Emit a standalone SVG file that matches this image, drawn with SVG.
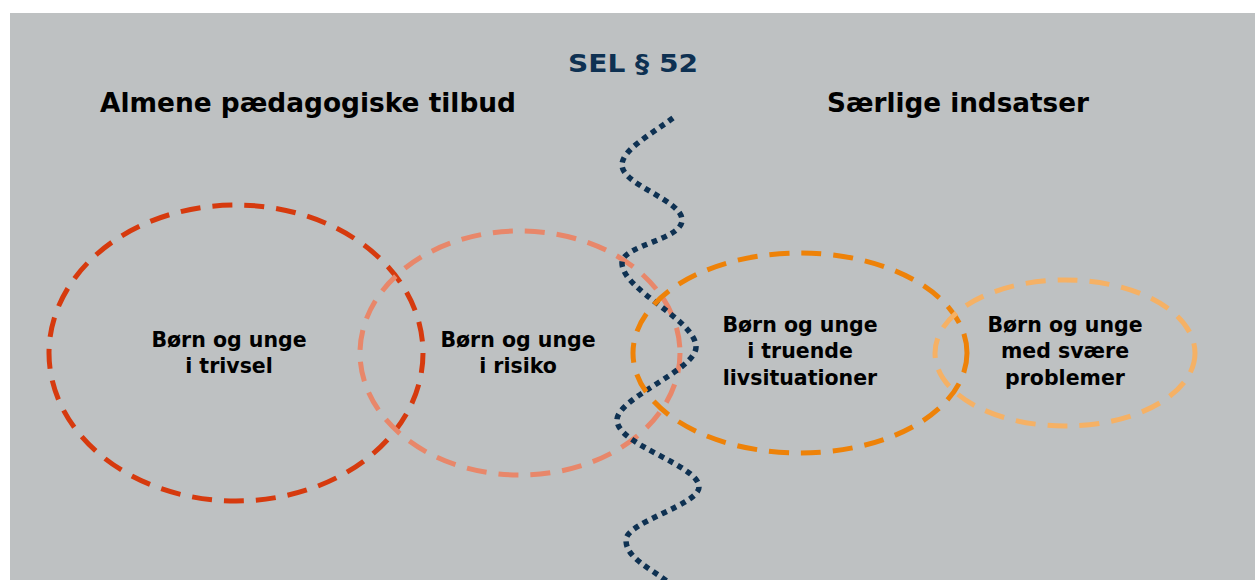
<svg xmlns="http://www.w3.org/2000/svg" width="1255" height="580" viewBox="0 0 1255 580">
  <style>
    .ring { fill: none; stroke-width: 5; stroke-dasharray: 20 12; }
    .lbl { font-family: "DejaVu Sans", Verdana, sans-serif; font-weight: bold; font-size: 20.5px; fill: #000; text-anchor: middle; }
    .head { font-family: "DejaVu Sans", Verdana, sans-serif; font-weight: bold; font-size: 26px; fill: #000; text-anchor: middle; }
  </style>
  <rect x="0" y="0" width="1255" height="580" fill="#ffffff"/>
  <rect x="10" y="13" width="1245" height="567" fill="#BEC1C2"/>

  <g id="titles">
    <text x="633" y="72" class="head" style="fill:#0E3152;font-size:25px" textLength="130" lengthAdjust="spacingAndGlyphs">SEL § 52</text>
    <text x="308" y="112" class="head" textLength="416" lengthAdjust="spacingAndGlyphs">Almene pædagogiske tilbud</text>
    <text x="958" y="112" class="head" textLength="262" lengthAdjust="spacingAndGlyphs">Særlige indsatser</text>
  </g>

  <g id="node-trivsel">
    <ellipse cx="236" cy="353" rx="187" ry="148" class="ring" stroke="#D63A0E"/>
    <text class="lbl" x="229" y="347">Børn og unge</text>
    <text class="lbl" x="229" y="373">i trivsel</text>
  </g>
  <g id="node-risiko">
    <ellipse cx="520" cy="353" rx="160" ry="122" class="ring" stroke="#E8876A"/>
    <text class="lbl" x="518" y="347">Børn og unge</text>
    <text class="lbl" x="518" y="373">i risiko</text>
  </g>

  <g id="connectors">
    <path d="M 673 118 C 650 135 622 150 622 165 C 622 185 682 200 682 220 C 682 240 622 245 622 263 C 622 290 696 320 696 347 C 696 370 617 398 617 420 C 617 445 699 465 699 487 C 699 505 626 522 626 540 C 626 558 650 568 668 582" fill="none" stroke="#0E3152" stroke-width="5.5" stroke-dasharray="5.5 5"/>
  </g>

  <g id="node-truende">
    <ellipse cx="800" cy="353" rx="167" ry="100" class="ring" stroke="#EE8208"/>
    <text class="lbl" x="800" y="332">Børn og unge</text>
    <text class="lbl" x="800" y="358">i truende</text>
    <text class="lbl" x="800" y="385">livsituationer</text>
  </g>
  <g id="node-problemer">
    <ellipse cx="1065" cy="353" rx="130" ry="73" class="ring" stroke="#F5B165"/>
    <text class="lbl" x="1065" y="332">Børn og unge</text>
    <text class="lbl" x="1065" y="358">med svære</text>
    <text class="lbl" x="1065" y="385">problemer</text>
  </g>
</svg>
